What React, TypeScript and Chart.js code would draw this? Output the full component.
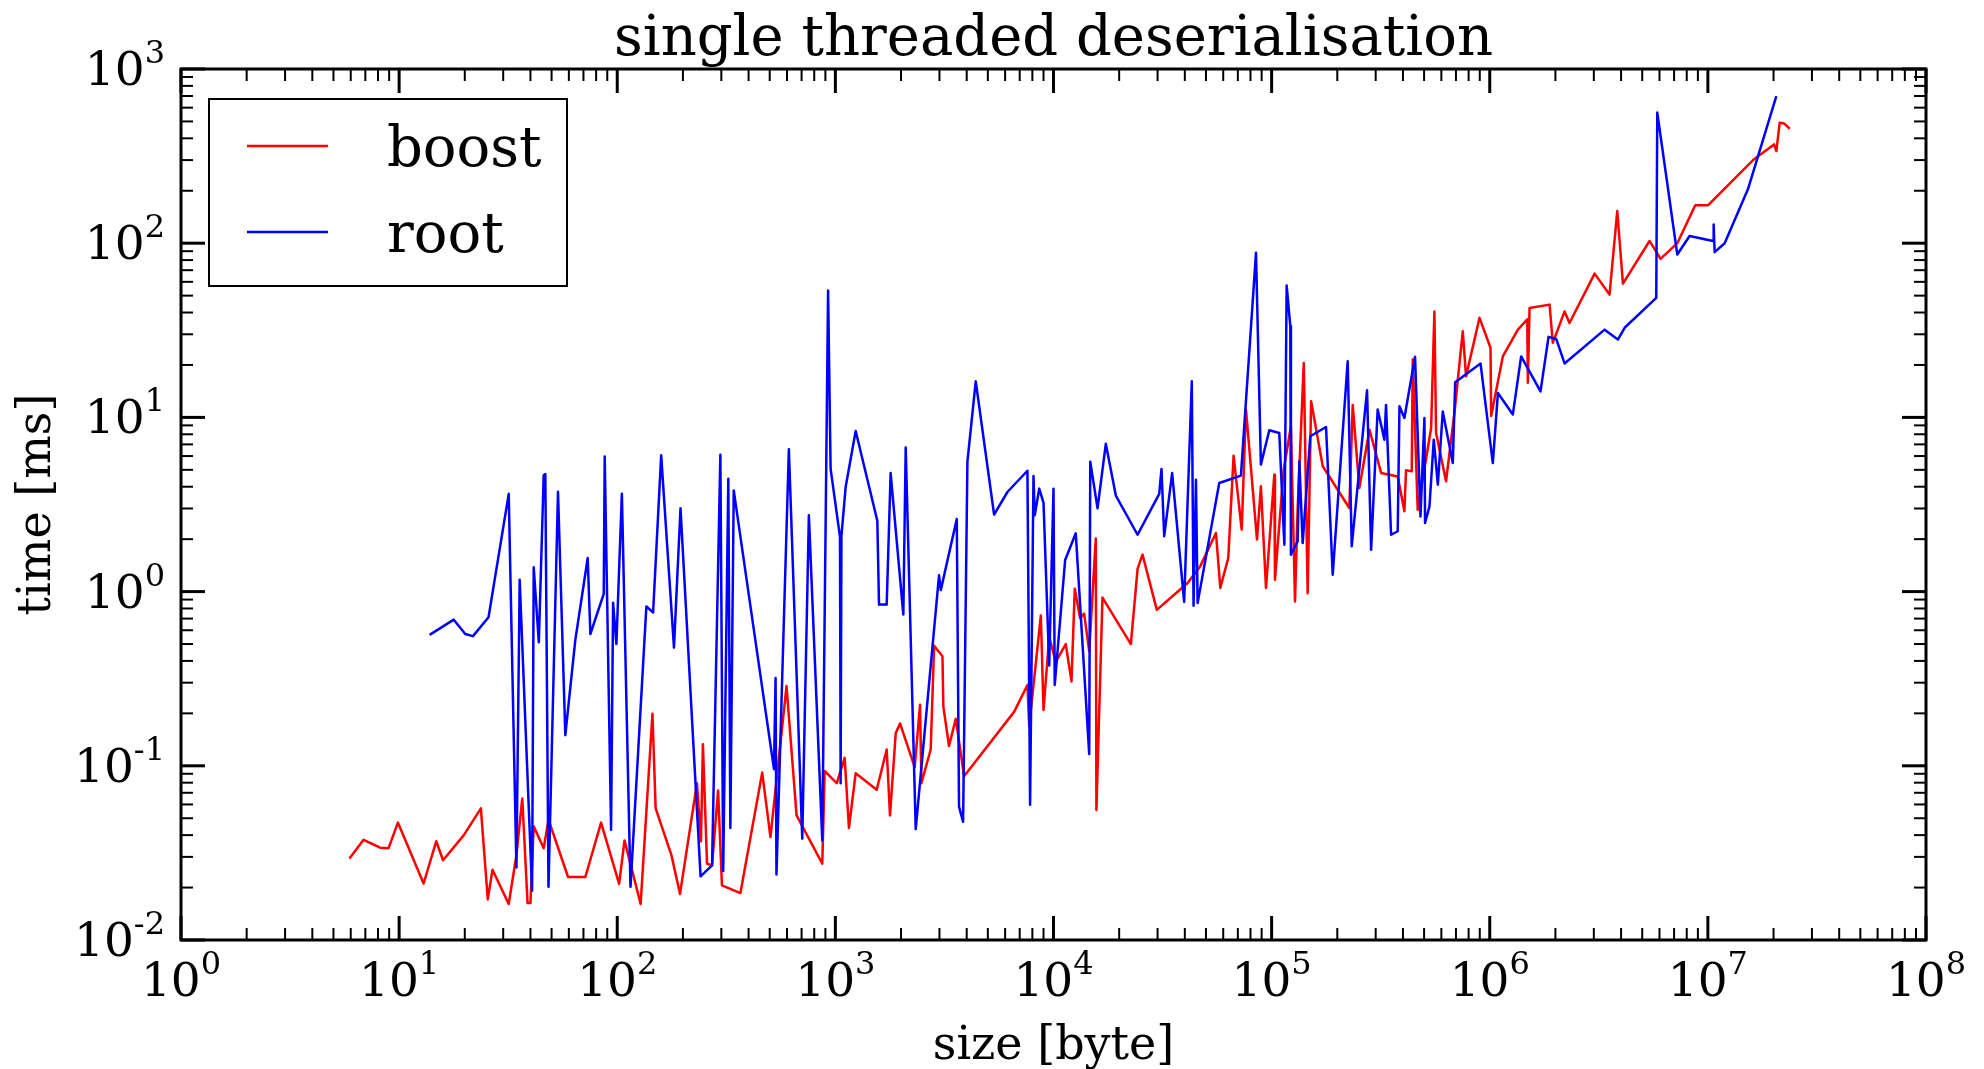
import React, { useEffect, useRef } from "react";
import { Chart, registerables } from "chart.js";

Chart.register(...registerables);

// ---- data ----
const boostSize = [
  5.92, 6.87, 8.19, 8.94, 9.87, 12.95, 14.8, 15.9, 19.8, 23.7,
  25.5, 26.8, 31.8, 34.5, 36.7, 38.8, 40.0, 41.4, 46.0, 48.4,
  59.5, 71.4, 84.3, 102, 108, 128, 145, 150, 177, 194,
  232, 242, 247, 258, 272, 290, 302, 367, 462, 504,
  597, 664, 871, 893, 1014, 1103, 1154, 1239, 1547, 1719,
  1780, 1891, 1979, 2310, 2444, 2480, 2735, 2836, 3097, 3126,
  3319, 3564, 3891, 6598, 7594, 7737, 8749, 9000, 9557, 10240,
  11380, 12090, 12520, 13240, 13820, 14580, 15630, 15730, 16770, 22630,
  24290, 25590, 29770, 41190, 47090, 55560, 58170, 63270, 66930, 72910,
  76290, 85700, 89300, 94230, 102900, 103600, 113500, 122600, 128000, 131600,
  140400, 146300, 151700, 162600, 171500, 227100, 235400, 252400, 280900, 317600,
  378500, 406200, 413200, 438900, 443600, 467400, 538500, 557600, 567400, 630500,
  688700, 752100, 778700, 897500, 1008000, 1015000, 1148000, 1346000, 1486000, 1495000,
  1522000, 1880000, 1946000, 2203000, 2321000, 3025000, 3541000, 3842000, 4080000, 5403000,
  6069000, 7240000, 8755000, 10010000, 16110000, 20110000, 20600000, 21350000, 22350000, 23730000,
];
const boostTime = [
  0.0294, 0.0376, 0.0339, 0.0336, 0.0472, 0.0211, 0.0369, 0.0287, 0.04, 0.057,
  0.0171, 0.0253, 0.0161, 0.0308, 0.065, 0.0163, 0.0163, 0.045, 0.0336, 0.049,
  0.023, 0.023, 0.0472, 0.021, 0.0373, 0.0161, 0.199, 0.057, 0.0308, 0.0184,
  0.0794, 0.0369, 0.133, 0.0274, 0.0268, 0.0722, 0.0206, 0.0186, 0.0914, 0.039,
  0.287, 0.0519, 0.0274, 0.0935, 0.0794, 0.111, 0.044, 0.0906, 0.0729, 0.124,
  0.0519, 0.154, 0.175, 0.0982, 0.224, 0.0794, 0.124, 0.489, 0.425, 0.219,
  0.13, 0.186, 0.0872, 0.204, 0.291, 0.169, 0.73, 0.209, 0.55, 0.395,
  0.5, 0.305, 1.04, 0.704, 0.747, 0.455, 2.02, 0.0557, 0.924, 0.5,
  1.35, 1.63, 0.785, 1.12, 1.4, 2.17, 1.05, 1.56, 6.03, 2.27,
  11.1, 1.99, 4.02, 1.05, 4.69, 1.17, 4.97, 8.9, 0.879, 2.95,
  20.5, 0.98, 12.4, 7.63, 5.24, 3.02, 11.8, 3.93, 8.5, 4.8,
  4.58, 2.89, 4.97, 4.9, 21.5, 2.95, 8.7, 40.6, 8.14, 4.3,
  10.6, 31.2, 17.2, 37.3, 25.1, 10.2, 22.4, 31.9, 36.5, 15.8,
  42.5, 44.4, 26.8, 40.6, 34.8, 66.9, 50.7, 153, 58.6, 103,
  81.3, 100, 165, 165, 300, 369, 338, 492, 487, 454,
];
const rootSize = [
  13.8, 17.8, 20.1, 21.8, 25.7, 31.8, 34.5, 35.7, 40.7, 41.4,
  43.7, 46.0, 46.8, 48.4, 53.5, 57.8, 64.2, 73.2, 75.3, 86.7,
  87.6, 93.7, 95.7, 99.1, 105, 115, 136, 146, 159, 182,
  195, 241, 272, 297, 306, 323, 330, 342, 523, 532,
  537, 612, 705, 756, 871, 926, 951, 1050, 1057, 1066,
  1115, 1239, 1557, 1585, 1719, 1792, 2049, 2101, 2335, 2987,
  3043, 3602, 3689, 3851, 4030, 4401, 5342, 6148, 7594, 7810,
  8096, 8205, 8601, 9000, 9557, 10000, 10130, 11310, 12650, 14580,
  14740, 15920, 17370, 19310, 24290, 30530, 31270, 32170, 34990, 39720,
  43050, 43860, 44990, 45780, 57530, 72320, 84790, 89300, 97560, 108400,
  114400, 117200, 121800, 122600, 131600, 134000, 138800, 150400, 177600, 190600,
  223200, 232900, 273800, 285800, 306300, 328900, 334600, 352900, 378500, 385600,
  406200, 454500, 481300, 501800, 505100, 529200, 553800, 578100, 609000, 676900,
  694300, 907100, 1033000, 1090000, 1276000, 1393000, 1709000, 1860000, 2017000, 2203000,
  3362000, 3868000, 4153000, 5799000, 5862000, 7240000, 8245000, 10560000, 10630000, 10740000,
  11940000, 15260000, 20600000,
];
const rootTime = [
  0.564, 0.69, 0.571, 0.555, 0.713, 3.64, 0.0261, 1.17, 0.0192, 1.38,
  0.512, 4.65, 4.73, 0.0202, 3.74, 0.15, 0.525, 1.56, 0.571, 0.97,
  5.97, 0.0429, 0.862, 0.5, 3.64, 0.0202, 0.822, 0.759, 6.06, 0.477,
  3.01, 0.0232, 0.0268, 6.11, 0.0249, 4.44, 0.044, 3.81, 0.0957, 0.319,
  0.0238, 6.57, 0.0382, 2.74, 0.0373, 53.5, 5.06, 2.06, 0.0794, 2.08,
  4.0, 8.35, 2.55, 0.842, 0.842, 4.79, 0.738, 6.71, 0.0433, 1.24,
  1.02, 2.61, 0.0583, 0.0477, 5.57, 16.1, 2.77, 3.73, 4.94, 0.0597,
  4.61, 2.74, 3.9, 3.23, 0.377, 3.9, 0.291, 1.52, 2.16, 0.117,
  5.57, 3.01, 7.05, 3.56, 2.12, 3.64, 5.06, 2.08, 4.79, 0.872,
  16.1, 0.829, 4.39, 0.859, 4.2, 4.63, 88.1, 5.36, 8.43, 8.14,
  1.86, 57.1, 33.4, 1.63, 1.94, 5.59, 1.9, 7.79, 8.81, 1.25,
  21.0, 1.82, 14.3, 1.74, 11.1, 7.45, 11.8, 2.12, 2.22, 11.6,
  9.93, 22.3, 2.7, 9.93, 2.48, 3.08, 7.45, 4.11, 10.8, 5.47,
  15.9, 20.4, 5.47, 13.8, 10.4, 22.4, 14.1, 29.0, 28.2, 20.4,
  31.9, 28.0, 32.7, 48.5, 562, 86.1, 110, 103, 128, 88.8,
  100, 204, 699,
];

const seriesLabels = ["boost", "root"];
const seriesColors = ["#ff0000", "#0000ff"];
const xTickExponents = ["0", "1", "2", "3", "4", "5", "6", "7", "8"];
const yTickExponents = ["-2", "-1", "0", "1", "2", "3"];
const minorMultipliers = [2, 3, 4, 5, 6, 7, 8, 9];
const titleText = "single threaded deserialisation";
const xLabelText = "size [byte]";
const yLabelText = "time [ms]";

const FONT = '"DejaVu Serif", "Liberation Serif", serif';
const TICK_FS = 47;
const SUP_FS = 32;
const SUP_RAISE = 22;
const MAJOR = 24;
const MINOR = 12;
const LINE_W = 2.5;

const mplPlugin = {
  id: "mplLook",
  afterDraw(chart: any) {
    const { ctx, chartArea: a } = chart;
    const xs = chart.scales.x;
    const ys = chart.scales.y;
    ctx.save();
    ctx.strokeStyle = "#000";
    ctx.fillStyle = "#000";
    ctx.lineCap = "butt";

    const line = (x1: number, y1: number, x2: number, y2: number, w: number) => {
      ctx.lineWidth = w;
      ctx.beginPath();
      ctx.moveTo(x1, y1);
      ctx.lineTo(x2, y2);
      ctx.stroke();
    };

    // x ticks (inward, bottom and top)
    xTickExponents.forEach((e, i) => {
      const v = Math.pow(10, Number(e));
      const px = xs.getPixelForValue(v);
      line(px, a.bottom, px, a.bottom - MAJOR, 3);
      line(px, a.top, px, a.top + MAJOR, 3);
      if (i < xTickExponents.length - 1) {
        minorMultipliers.forEach((k) => {
          const p = xs.getPixelForValue(k * v);
          line(p, a.bottom, p, a.bottom - MINOR, 2);
          line(p, a.top, p, a.top + MINOR, 2);
        });
      }
    });
    // y ticks (inward, left and right)
    yTickExponents.forEach((e, i) => {
      const v = Math.pow(10, Number(e));
      const py = ys.getPixelForValue(v);
      line(a.left, py, a.left + MAJOR, py, 3);
      line(a.right, py, a.right - MAJOR, py, 3);
      if (i < yTickExponents.length - 1) {
        minorMultipliers.forEach((k) => {
          const p = ys.getPixelForValue(k * v);
          line(a.left, p, a.left + MINOR, p, 2);
          line(a.right, p, a.right - MINOR, p, 2);
        });
      }
    });

    // frame
    ctx.lineWidth = 3;
    ctx.strokeRect(a.left, a.top, a.right - a.left, a.bottom - a.top);

    // power-of-ten labels
    const drawPow = (exp: string, x: number, yBase: number, align: "center" | "right") => {
      ctx.font = `${TICK_FS}px ${FONT}`;
      const wb = ctx.measureText("10").width;
      ctx.font = `${SUP_FS}px ${FONT}`;
      const we = ctx.measureText(exp).width;
      const x0 = align === "center" ? x - (wb + we) / 2 : x - (wb + we);
      ctx.textAlign = "left";
      ctx.textBaseline = "alphabetic";
      ctx.font = `${TICK_FS}px ${FONT}`;
      ctx.fillText("10", x0, yBase);
      ctx.font = `${SUP_FS}px ${FONT}`;
      ctx.fillText(exp, x0 + wb, yBase - SUP_RAISE);
    };
    xTickExponents.forEach((e) => {
      const px = xs.getPixelForValue(Math.pow(10, Number(e)));
      drawPow(e, px, a.bottom + 56, "center");
    });
    yTickExponents.forEach((e) => {
      const py = ys.getPixelForValue(Math.pow(10, Number(e)));
      drawPow(e, a.left - 16, py + 16, "right");
    });

    // title
    ctx.textAlign = "center";
    ctx.textBaseline = "alphabetic";
    ctx.font = `56px ${FONT}`;
    ctx.fillText(titleText, (a.left + a.right) / 2, 55);

    // axis labels
    ctx.font = `46px ${FONT}`;
    ctx.fillText(xLabelText, (a.left + a.right) / 2, 1059);
    ctx.save();
    ctx.translate(50, (a.top + a.bottom) / 2);
    ctx.rotate(-Math.PI / 2);
    ctx.fillText(yLabelText, 0, 0);
    ctx.restore();

    // legend
    const lx = 209, ly = 99, lw = 358, lh = 187;
    ctx.fillStyle = "#fff";
    ctx.fillRect(lx, ly, lw, lh);
    ctx.lineWidth = 2;
    ctx.strokeStyle = "#000";
    ctx.strokeRect(lx, ly, lw, lh);
    const rowY = [146, 232];
    seriesLabels.forEach((lab, i) => {
      ctx.strokeStyle = seriesColors[i];
      line(247, rowY[i], 328, rowY[i], LINE_W);
      ctx.fillStyle = "#000";
      ctx.font = `56px ${FONT}`;
      ctx.textAlign = "left";
      ctx.fillText(lab, 387, rowY[i] + 20);
    });
    ctx.restore();
  },
};

export default function App() {
  const ref = useRef<HTMLCanvasElement>(null);
  useEffect(() => {
    if (!ref.current) return;
    const chart = new Chart(ref.current, {
      type: "line",
      data: {
        datasets: [
          {
            label: seriesLabels[0],
            data: boostSize.map((x, i) => ({ x, y: boostTime[i] })),
            borderColor: seriesColors[0],
            backgroundColor: seriesColors[0],
            borderWidth: LINE_W,
            pointRadius: 0,
            tension: 0,
            fill: false,
            borderJoinStyle: "round",
            order: 2,
          },
          {
            label: seriesLabels[1],
            data: rootSize.map((x, i) => ({ x, y: rootTime[i] })),
            borderColor: seriesColors[1],
            backgroundColor: seriesColors[1],
            borderWidth: LINE_W,
            pointRadius: 0,
            tension: 0,
            fill: false,
            borderJoinStyle: "round",
            order: 1,
          },
        ],
      },
      options: {
        responsive: false,
        animation: false,
        devicePixelRatio: 1,
        events: [],
        layout: { padding: { left: 181, top: 69, right: 58, bottom: 129 } },
        scales: {
          x: { type: "logarithmic", min: 1, max: 1e8, display: false },
          y: { type: "logarithmic", min: 0.01, max: 1000, display: false },
        },
        plugins: {
          legend: { display: false },
          title: { display: false },
          tooltip: { enabled: false },
        },
      } as any,
      plugins: [mplPlugin],
    });
    return () => chart.destroy();
  }, []);
  return (
    <div style={{ position: "fixed", left: 0, top: 0, width: 1984, height: 1069, background: "#fff" }}>
      <canvas ref={ref} width={1984} height={1069} style={{ display: "block" }} />
    </div>
  );
}
